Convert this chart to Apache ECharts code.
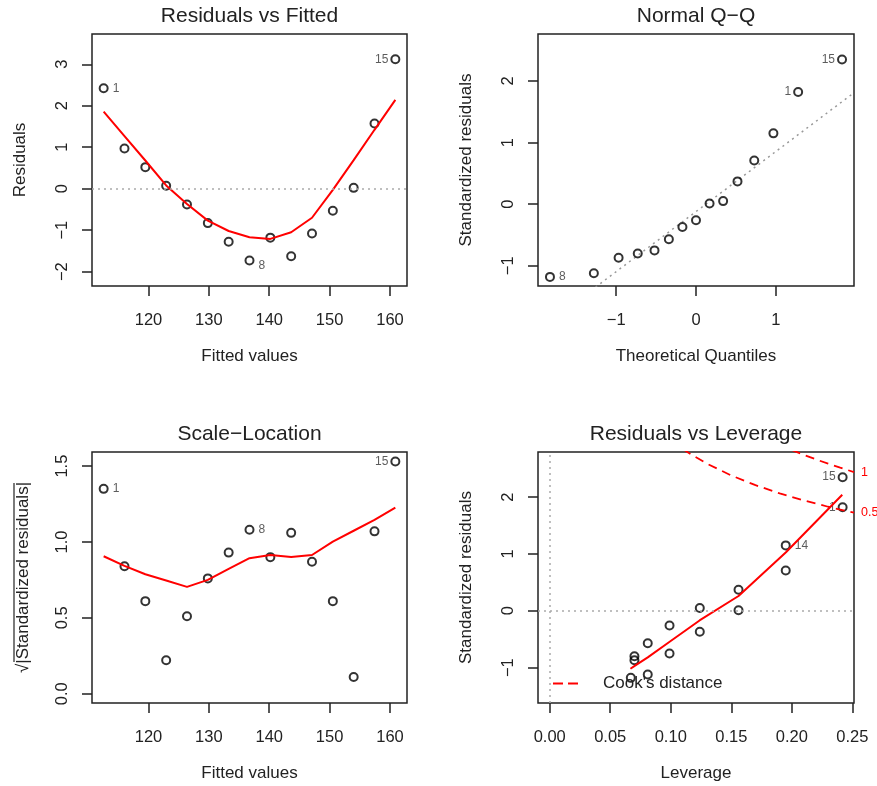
<!DOCTYPE html>
<html><head><meta charset="utf-8">
<script src="https://cdn.jsdelivr.net/npm/echarts@6/dist/echarts.min.js"></script>
<style>html,body{margin:0;padding:0;background:#fff}#c{width:877px;height:786px}</style>
</head><body><div id="c"></div>
<script>
// ---- data ----
const obsIds = [1,2,3,4,5,6,7,8,9,10,11,12,13,14,15];
const fitted = [112.58,116.03,119.48,122.93,126.38,129.83,133.28,136.73,140.18,143.63,147.08,150.53,153.98,157.43,160.88];
const residuals = [2.42,0.97,0.52,0.07,-0.38,-0.83,-1.28,-1.73,-1.18,-1.63,-1.08,-0.53,0.02,1.57,3.12];
const stdResid = [1.82,0.71,0.37,0.05,-0.26,-0.57,-0.87,-1.18,-0.80,-1.12,-0.75,-0.37,0.01,1.15,2.35];
const theoQuant = [1.28,0.73,0.52,0.34,0.00,-0.34,-0.97,-1.83,-0.73,-1.28,-0.52,-0.17,0.17,0.97,1.83];
const sqrtAbsStd = [1.35,0.84,0.61,0.22,0.51,0.76,0.93,1.08,0.90,1.06,0.87,0.61,0.11,1.07,1.53];
const leverage = [0.242,0.195,0.156,0.124,0.099,0.081,0.070,0.067,0.070,0.081,0.099,0.124,0.156,0.195,0.242];

const smoothResid = [1.86,1.27,0.68,0.08,-0.37,-0.77,-1.02,-1.17,-1.21,-1.05,-0.70,-0.03,0.69,1.42,2.14];
const smoothScale = [0.906,0.842,0.787,0.746,0.704,0.750,0.822,0.893,0.914,0.901,0.914,1.002,1.074,1.145,1.226];
const smoothLevX = [0.0667,0.0702,0.081,0.0988,0.1238,0.156,0.1952,0.2417];
const smoothLevY = [-1.02,-0.97,-0.82,-0.55,-0.17,0.26,1.03,2.04];

const qqLineX = [-1.98, 1.98];
const qqLineY = [-2.05, 1.81];

const cookHalfX = [0.110,0.115,0.130,0.150,0.170,0.190,0.210,0.230,0.2514];
const cookHalfY = [2.844,2.774,2.587,2.380,2.210,2.065,1.940,1.830,1.726];
const cookOneX = [0.200,0.210,0.220,0.230,0.240,0.2514];
const cookOneY = [2.828,2.743,2.663,2.588,2.517,2.440];

const ticksFittedX = [120,130,140,150,160];
const ticksResidY = [-2,-1,0,1,2,3];
const ticksQQX = [-1,0,1];
const ticksStdY = [-1,0,1,2];
const ticksScaleY = [0,0.5,1,1.5];
const ticksLevX = [0,0.05,0.1,0.15,0.2,0.25];

const titles = ['Residuals vs Fitted','Normal Q\u2212Q','Scale\u2212Location','Residuals vs Leverage'];

// ---- style ----
const FONT = '"Liberation Sans", Arial, Helvetica, sans-serif';
const INK = '#222';
const RED = '#ff0000';

function fmt(v, dec){ const s = dec==null ? String(v) : v.toFixed(dec); return s.replace('-', '\u2212'); }

function xAx(g, min, max, ticks, name, dec){
  return {type:'value', gridIndex:g, min:min, max:max, name:name, nameLocation:'middle', nameGap:62,
    nameTextStyle:{fontSize:17, color:INK, fontFamily:FONT},
    axisLine:{show:false, onZero:false}, splitLine:{show:false},
    axisTick:{show:true, length:10, lineStyle:{color:INK, width:1.5}, customValues:ticks},
    axisLabel:{customValues:ticks, margin:26, fontSize:16.5, color:INK, fontFamily:FONT, formatter:v=>fmt(v,dec)}};
}
function yAx(g, min, max, ticks, name, dec, gap){
  return {type:'value', gridIndex:g, min:min, max:max, name:name, nameLocation:'middle', nameGap:gap||63,
    nameTextStyle:{fontSize:17, color:INK, fontFamily:FONT},
    axisLine:{show:false, onZero:false}, splitLine:{show:false},
    axisTick:{show:true, length:10, lineStyle:{color:INK, width:1.5}, customValues:ticks},
    axisLabel:{customValues:ticks, rotate:90, margin:21, fontSize:16.5, color:INK, fontFamily:FONT, formatter:v=>fmt(v,dec)}};
}
function pts(g, xs, ys, labels, extra){
  const data = xs.map((x,i)=>{
    const item = {value:[x, ys[i]]};
    const L = labels[obsIds[i]];
    if (L) item.label = {show:true, formatter:String(obsIds[i]), position:L.pos,
      distance: L.pos==='left' ? 2 : 4, offset:L.off||[0,0]};
    return item;
  });
  return Object.assign({type:'scatter', xAxisIndex:g, yAxisIndex:g, data:data, symbol:'circle', symbolSize:8,
    itemStyle:{color:'rgba(0,0,0,0)', borderColor:'#000', borderWidth:2},
    label:{fontSize:12, color:'#333', fontFamily:FONT}, silent:true, z:2, emphasis:{disabled:true}}, extra||{});
}
function line(g, xs, ys, style, extra){
  return Object.assign({type:'line', xAxisIndex:g, yAxisIndex:g, data:xs.map((x,i)=>[x,ys[i]]),
    symbol:'none', showSymbol:false, lineStyle:style, itemStyle:{color:style.color}, silent:true, z:3,
    emphasis:{disabled:true}}, extra||{});
}
const zeroLine = (items)=>({silent:true, symbol:'none', label:{show:false}, animation:false,
  lineStyle:{color:'#aaa', type:[2,4], width:1.5}, data:items});

const grids = [
  {left:92, top:34, width:315, height:252},
  {left:538, top:34, width:316, height:252},
  {left:92, top:452, width:315, height:251},
  {left:538, top:452, width:316, height:251}
].map(g=>Object.assign(g,{show:true, borderColor:INK, borderWidth:1.5, backgroundColor:'transparent'}));

const titleCenters = [[249.5,6],[696,6],[249.5,424],[696,424]];

const option = {
  animation:false,
  backgroundColor:'#fff',
  title: titles.map((t,i)=>({text:t, left:titleCenters[i][0], top:titleCenters[i][1], textAlign:'center', padding:0,
    textStyle:{fontSize:21, fontWeight:'normal', color:INK, fontFamily:FONT}})),
  grid: grids,
  legend:{data:["Cook's distance"], left:553, top:675, padding:0, itemWidth:25, itemHeight:2, selectedMode:false,
    icon:'path://M0,0h10v2h-10z M15,0h10v2h-10z',
    itemStyle:{color:RED, borderWidth:0}, lineStyle:{width:0},
    textStyle:{fontSize:17, color:INK, fontFamily:FONT, padding:[0,0,0,20]}},
  graphic:[{type:'line', silent:true, shape:{x1:14, y1:483, x2:14, y2:662}, style:{stroke:INK, lineWidth:1.2}}],
  xAxis:[
    xAx(0,110.65,162.81,ticksFittedX,'Fitted values'),
    xAx(1,-1.98,1.98,ticksQQX,'Theoretical Quantiles'),
    xAx(2,110.65,162.81,ticksFittedX,'Fitted values'),
    xAx(3,-0.00967,0.2514,ticksLevX,'Leverage',2)
  ],
  yAxis:[
    yAx(0,-2.346,3.730,ticksResidY,'Residuals'),
    yAx(1,-1.328,2.763,ticksStdY,'Standardized residuals'),
    yAx(2,-0.0613,1.593,ticksScaleY,'\u221A|Standardized residuals|',1,60),
    yAx(3,-1.622,2.793,ticksStdY,'Standardized residuals')
  ],
  series:[
    pts(0, fitted, residuals, {1:{pos:'right'},8:{pos:'right',off:[0,5]},15:{pos:'left'}}, {markLine:zeroLine([{yAxis:0}])}),
    line(0, fitted, smoothResid, {color:RED, width:2}),
    pts(1, theoQuant, stdResid, {8:{pos:'right'},1:{pos:'left'},15:{pos:'left'}}),
    line(1, qqLineX, qqLineY, {color:'#999', type:[2,4], width:1.5}, {z:1}),
    pts(2, fitted, sqrtAbsStd, {1:{pos:'right'},8:{pos:'right'},15:{pos:'left'}}),
    line(2, fitted, smoothScale, {color:RED, width:2}),
    pts(3, leverage, stdResid, {15:{pos:'left'},1:{pos:'left'},14:{pos:'right'}}, {markLine:zeroLine([{yAxis:0},{xAxis:0}])}),
    line(3, smoothLevX, smoothLevY, {color:RED, width:2}),
    line(3, cookHalfX, cookHalfY, {color:RED, width:1.8, type:[9,6]}, {name:"Cook's distance",
      endLabel:{show:true, formatter:'0.5', color:RED, fontSize:12.5, fontFamily:FONT, distance:7}}),
    line(3, cookOneX, cookOneY, {color:RED, width:1.8, type:[9,6]}, {name:"Cook's distance",
      endLabel:{show:true, formatter:'1', color:RED, fontSize:12.5, fontFamily:FONT, distance:7}})
  ]
};
const chart = echarts.init(document.getElementById('c'), null, {renderer:'canvas'});
chart.setOption(option);
</script>
</body></html>
